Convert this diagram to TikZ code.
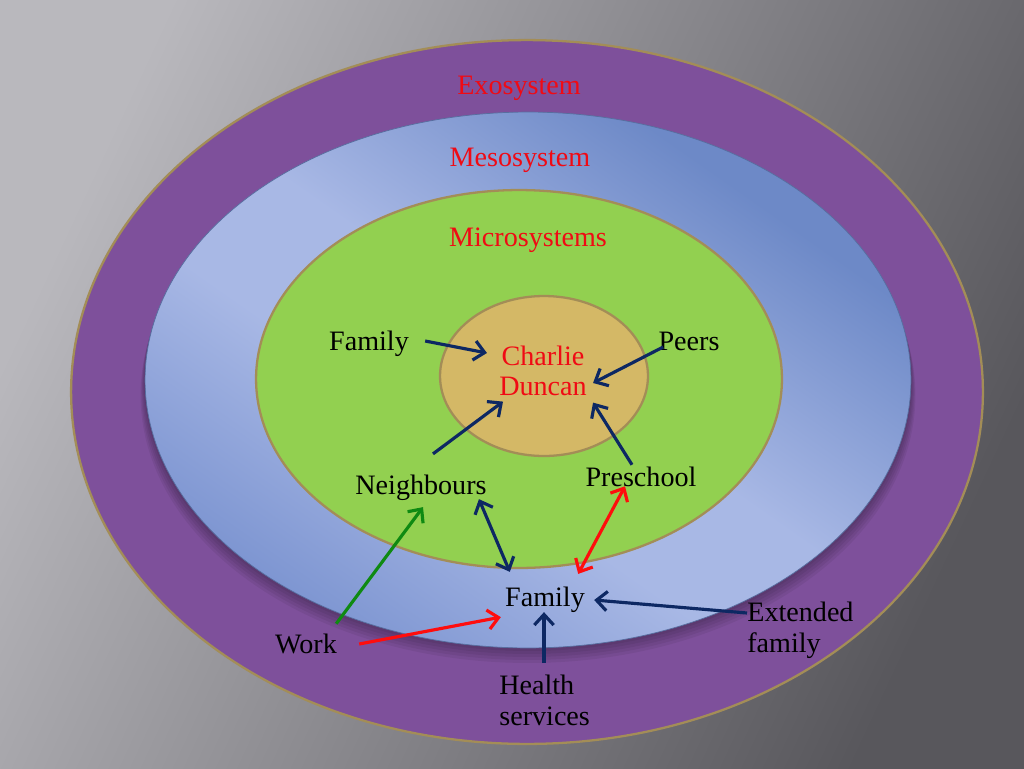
\documentclass[tikz,border=0pt]{standalone}
\usepackage{fontspec}
\setmainfont{Liberation Serif}
\usepackage{tikz}
\usetikzlibrary{arrows.meta,calc}
\definecolor{bglight}{HTML}{B9B8BD}
\definecolor{bgdark}{HTML}{58575C}
\definecolor{exopurple}{HTML}{7E509B}
\definecolor{mesodark}{HTML}{6D89C7}
\definecolor{mesolight}{HTML}{A8B8E5}
\definecolor{mesomid}{HTML}{7D95D1}
\definecolor{microgreen}{HTML}{92D050}
\definecolor{coretan}{HTML}{D4B866}
\definecolor{rimgold}{HTML}{A38D57}
\definecolor{sysred}{HTML}{F00A14}
\definecolor{linknavy}{HTML}{0D2863}
\definecolor{arrred}{HTML}{FF0D0D}
\definecolor{arrgreen}{HTML}{0F8A12}
\pgfdeclareverticalshading{mesoshade}{100bp}{color(0bp)=(mesomid); color(25bp)=(mesomid);
	color(42bp)=(mesolight); color(52bp)=(mesolight); color(72bp)=(mesodark); color(100bp)=(mesodark)}

\begin{document}
\begin{tikzpicture}[x=0.02cm,y=-0.02cm,
	txt/.style={inner sep=0pt,font=\fontsize{16}{17.5}\selectfont},
	sysname/.style={txt,text=sysred},
	link/.style={line width=1.8pt,draw=linknavy,-{Straight Barb[length=6pt,width=11pt]}},
	both/.style={{Straight Barb[length=6pt,width=11pt]}-{Straight Barb[length=6pt,width=11pt]}},
	rim/.style={draw=rimgold,line width=1.3pt}]
	\useasboundingbox (0,0) rectangle (1024,768);
	% backdrop
	\shade[left color=bglight,right color=bgdark,shading angle=65] (0,0) rectangle (1024,768);
	
	% rings, outside in
	\draw[rim,fill=exopurple] (527,392) ellipse [x radius=9.12cm,y radius=7.04cm];
	\foreach \s in {3,6,9,12,15}
		\fill[black,opacity=.06] (528,380+\s) ellipse [x radius=7.66cm+\s*0.006cm,y radius=5.36cm];
	\path[shading=mesoshade,shading angle=-35,draw=mesodark!80!black,line width=.4pt]
		(528,380) ellipse [x radius=7.66cm,y radius=5.36cm];
	\draw[rim,fill=microgreen] (519,379) ellipse [x radius=5.26cm,y radius=3.78cm];
	\draw[rim,fill=coretan] (544,376) ellipse [x radius=2.08cm,y radius=1.6cm];
	
	% system names
	\node[sysname] (exo) at (519,88) {Exosystem};
	\node[sysname] (meso) at (520,160) {Mesosystem};
	\node[sysname] (micro) at (528,240) {Microsystems};
	\node[sysname,align=center] (charlie) at (543,371) {Charlie\\Duncan};
	
	% settings
	\node[txt] (famA) at (369,344) {Family};
	\node[txt] (peers) at (689,341) {Peers};
	\node[txt] (neigh) at (421,488) {Neighbours};
	\node[txt] (presch) at (641,477) {Preschool};
	\node[txt] (famB) at (545,600) {Family};
	\node[txt] (work) at (306,644) {Work};
	\node[txt,align=left,anchor=north west] (ext) at (747,602) {Extended\\family};
	\node[txt,align=left,anchor=north west] (health) at (499,675) {Health\\services};
	
	% links to the child
	\draw[link] ([shift={(16,-3)}]famA.east) -- ([shift={(-12,-18)}]charlie.west);
	\draw[link] ([shift={(5,6)}]peers.west) -- ([shift={(6,12)}]charlie.east);
	\draw[link] ([shift={(12,-21)}]neigh.north) -- ([shift={(-40,5)}]charlie.south);
	\draw[link] ([shift={(-9,-2)}]presch.north) -- ([shift={(6,6)}]charlie.south east);
	% links between settings
	\draw[link,both] ([shift={(-8,-2)}]neigh.south east) -- ([shift={(5,-15)}]famB.north west);
	\draw[link,both,draw=arrred] ([shift={(-16,-1)}]presch.south) -- ([shift={(-7,-13)}]famB.north east);
	\draw[link,draw=arrgreen] ([shift={(-1,-10)}]work.north east) -- ([shift={(2,6)}]neigh.south);
	\draw[link,draw=arrred] ([shift={(22,0)}]work.east) -- ([shift={(-4,4)}]famB.south west);
	\draw[link] ([shift={(45,-12)}]health.north west) -- ([shift={(-1,-1)}]famB.south);
	\draw[link] ([shift={(0,11)}]ext.north west) -- ([shift={(9,0)}]famB.east);
\end{tikzpicture}
\end{document}
